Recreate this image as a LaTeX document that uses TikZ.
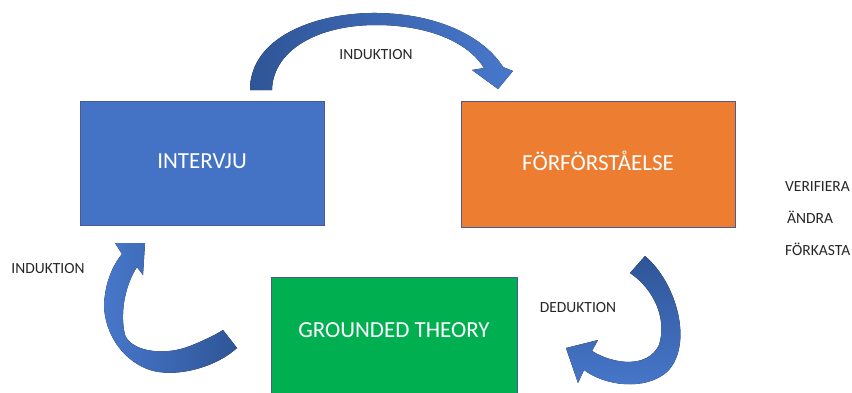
\documentclass[tikz,border=0pt]{standalone}
\usepackage{fontspec}
\setmainfont{Carlito}
\usepackage{tikz}
\usetikzlibrary{positioning}
\definecolor{boxblue}{HTML}{4472C4}
\definecolor{boxorange}{HTML}{ED7D31}
\definecolor{boxgreen}{HTML}{00B050}
\definecolor{boxline}{HTML}{4A5A94}
\definecolor{arrowdark}{HTML}{2F5597}
\definecolor{arrowlight}{HTML}{4878CC}
\definecolor{labelgray}{HTML}{262626}

\begin{document}
\begin{tikzpicture}[x=1pt,y=-1pt]
        \useasboundingbox (0,0) rectangle (852,392);
        \begin{scope}[every node/.style={draw=boxline,line width=0.8pt,text=white,font=\fontsize{23}{27}\selectfont}]
          \node[fill=boxblue,minimum width=244pt,minimum height=124pt] (intervju) at (202,163) {\raisebox{2pt}[\height][\depth]{INTERVJU}};
          \node[fill=boxorange,minimum width=274pt,minimum height=126pt] (forf) at (598,164) {\raisebox{3pt}[\height][\depth]{FÖRFÖRSTÅELSE}};
          \node[fill=boxgreen,minimum width=246pt,minimum height=120pt] (gt) at (394,337) {\raisebox{7pt}[\height][\depth]{GROUNDED THEORY}};
        \end{scope}
        % curved block arrows
        \fill[left color=arrowdark,right color=arrowlight] (250,90) .. controls (250,35) and (320,12) .. (378,13)
          .. controls (440,14) and (485,38) .. (503,67) -- (513,71) -- (498,89) -- (472,70) -- (484,68)
          .. controls (468,42) and (428,25) .. (376,25) .. controls (318,25) and (273,50) .. (272,90) -- cycle;
        \fill[top color=arrowdark,bottom color=arrowlight] (630,273) -- (645,256) .. controls (677,283) and (694,345) .. (667,372)
          .. controls (645,391) and (605,386) .. (584,370) -- (578,383) -- (566,348) -- (598,340) -- (592,351)
          .. controls (615,365) and (648,368) .. (659,345) .. controls (667,320) and (655,290) .. (630,273) -- cycle;
        \fill[left color=arrowlight,right color=arrowdark] (223,330) -- (237,348) .. controls (215,368) and (175,378) .. (150,370)
          .. controls (115,358) and (100,320) .. (105,295) .. controls (107,278) and (115,262) .. (122,254)
          -- (115,243) -- (145,243) -- (143,275) -- (137,267) .. controls (127,282) and (119,310) .. (125,335)
          .. controls (132,352) and (165,356) .. (190,346) .. controls (205,340) and (215,335) .. (223,330) -- cycle;
        \begin{scope}[every node/.style={text=labelgray,font=\fontsize{15.5}{18}\selectfont}]
          \node (indtop) at (376,55) {INDUKTION};
          \node (indleft) at (48,269) {INDUKTION};
          \node (ded) at (578,308) {DEDUKTION};
          \node[anchor=west,inner sep=0pt] (verifiera) at (785,187) {VERIFIERA};
          \node[anchor=west,inner sep=0pt] (andra) at (787,217) {ÄNDRA};
          \node[anchor=west,inner sep=0pt] (forkasta) at (785,249) {FÖRKASTA};
        \end{scope}
      \end{tikzpicture}
\end{document}
